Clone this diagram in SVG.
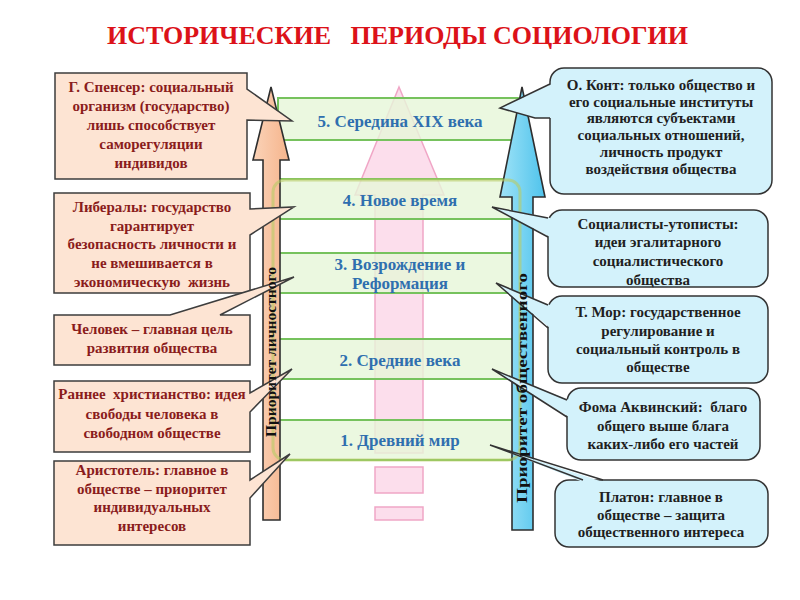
<svg xmlns="http://www.w3.org/2000/svg" width="800" height="600" viewBox="0 0 800 600">
<defs>
<linearGradient id="blue" x1="0" y1="0" x2="1" y2="0">
<stop offset="0" stop-color="#9fe3f7"/>
<stop offset="1" stop-color="#4fc3ec"/>
</linearGradient>
<linearGradient id="peach" x1="0" y1="0" x2="1" y2="0">
<stop offset="0" stop-color="#fbd3b8"/>
<stop offset="1" stop-color="#f5b48c"/>
</linearGradient>
</defs>
<style>
text{font-family:'Liberation Serif','Times New Roman',serif;font-weight:bold}
.title{font-size:25px;fill:#dc1219}
.lt{font-size:15px;fill:#8a1c1c;text-anchor:middle}
.rt{font-size:15px;fill:#1f1f1f;text-anchor:middle}
.pt{font-size:17px;fill:#2f6faf;text-anchor:middle}
.at{font-size:14px;fill:#111;text-anchor:middle}
.lbox{fill:#fde4d3;stroke:#3d3d3d;stroke-width:1.5}
.rbox{fill:#d3f2fb;stroke:#333;stroke-width:1.5}
.rfill{fill:#d3f2fb;stroke:none}
.rline{fill:none;stroke:#333;stroke-width:1.5}
.band{fill:#e6f6d8;fill-opacity:0.8;stroke:#76c25d;stroke-width:2}
.pink{fill:#fbd3e6;fill-opacity:0.75;stroke:#f0a6c6;stroke-width:1.5}
</style>
<text class="title" x="107" y="44" textLength="581" lengthAdjust="spacingAndGlyphs" xml:space="preserve">ИСТОРИЧЕСКИЕ   ПЕРИОДЫ СОЦИОЛОГИИ</text>

<g id="center-arrow">
<path class="pink" d="M399,87 L444,195 L423,195 L423,453 L375,453 L375,195 L355,195 Z"/>
<rect class="pink" x="375" y="467" width="48" height="26"/>
<rect class="pink" x="375" y="507" width="48" height="13"/>
</g>

<g id="periods">
<g id="p5"><rect class="band" x="278" y="98" width="240" height="42"/><text class="pt" x="400" y="127">5. Середина XIX века</text></g>
<g id="p4"><rect class="band" x="278" y="179" width="240" height="40"/><text class="pt" x="400" y="206">4. Новое время</text></g>
<g id="p3"><rect class="band" x="278" y="253" width="240" height="40"/><text class="pt" x="400" y="270">3. Возрождение и</text><text class="pt" x="400" y="289">Реформация</text></g>
<g id="p2"><rect class="band" x="278" y="339" width="240" height="40"/><text class="pt" x="400" y="366">2. Средние века</text></g>
<g id="p1"><rect class="band" x="278" y="420" width="240" height="40"/><text class="pt" x="400" y="446">1. Древний мир</text></g>
</g>

<g id="left-arrow">
<path d="M271,87 L289,160 L280,160 L280,520 L263,520 L263,160 L253,160 Z" fill="url(#peach)" stroke="#2e2e2e" stroke-width="1.6"/>
</g>
<g id="right-arrow">
<path d="M522,87 L545,197 L533,197 L533,530 L512,530 L512,197 L500,197 Z" fill="url(#blue)" stroke="#2e2e2e" stroke-width="1.6"/>
</g>
<rect x="273" y="180" width="247" height="280" rx="12" fill="none" stroke="#b8cc66" stroke-width="3" stroke-opacity="0.6"/>

<g id="connectors">
</g>

<g id="l1"><path class="lbox" d="M55,73 H247 V89 L292,121 L247,120 V179 H55 Z"/>
<text class="lt" x="151" y="92">Г. Спенсер: социальный</text>
<text class="lt" x="151" y="111">организм (государство)</text>
<text class="lt" x="151" y="130">лишь способствует</text>
<text class="lt" x="151" y="149">саморегуляции</text>
<text class="lt" x="151" y="168">индивидов</text></g>

<g id="l2"><path class="lbox" d="M54,193 H250 V209 L294,207 L250,235 V293 H54 Z"/>
<text class="lt" x="152" y="212">Либералы: государство</text>
<text class="lt" x="152" y="231">гарантирует</text>
<text class="lt" x="152" y="249">безопасность личности и</text>
<text class="lt" x="152" y="268">не вмешивается в</text>
<text class="lt" x="152" y="287" xml:space="preserve">экономическую  жизнь</text></g>

<g id="l3"><path class="lbox" d="M54,315 H170 L294,277 L220,315 H250 V365 H54 Z"/>
<text class="lt" x="152" y="334">Человек – главная цель</text>
<text class="lt" x="152" y="353">развития общества</text></g>

<g id="l4"><path class="lbox" d="M54,381 H250 V393 L292,369 L250,412 V452 H54 Z"/>
<text class="lt" x="152" y="399" xml:space="preserve">Раннее  христианство: идея</text>
<text class="lt" x="152" y="419">свободы человека в</text>
<text class="lt" x="152" y="438">свободном обществе</text></g>

<g id="l5"><path class="lbox" d="M54,461 H250 V480 L290,454 L250,498 V545 H54 Z"/>
<text class="lt" x="152" y="475">Аристотель: главное в</text>
<text class="lt" x="152" y="494">обществе – приоритет</text>
<text class="lt" x="152" y="512">индивидуальных</text>
<text class="lt" x="152" y="531">интересов</text></g>

<g id="r1"><rect class="rbox" x="550" y="68" width="222" height="126" rx="14"/>
<path class="rfill" d="M552,84 L500,108 L535,118 L552,118 Z"/>
<path class="rline" d="M550,84 L500,108 L535,118 L550,118"/>
<text class="rt" x="661" y="90">О. Конт: только общество и</text>
<text class="rt" x="661" y="107">его социальные институты</text>
<text class="rt" x="661" y="123">являются субъектами</text>
<text class="rt" x="661" y="140">социальных отношений,</text>
<text class="rt" x="661" y="157">личность продукт</text>
<text class="rt" x="661" y="174">воздействия общества</text></g>

<g id="r2"><rect class="rbox" x="548" y="210" width="220" height="77" rx="14"/>
<path class="rfill" d="M550,218 L492,207 L550,237 Z"/>
<path class="rline" d="M548,218 L492,207 L548,237"/>
<text class="rt" x="658" y="229">Социалисты-утописты:</text>
<text class="rt" x="658" y="247">идеи эгалитарного</text>
<text class="rt" x="658" y="266">социалистического</text>
<text class="rt" x="658" y="285">общества</text></g>

<g id="r3"><rect class="rbox" x="548" y="296" width="220" height="87" rx="14"/>
<path class="rfill" d="M550,305 L496,283 L550,328 Z"/>
<path class="rline" d="M548,305 L496,283 L548,328"/>
<text class="rt" x="658" y="317">Т. Мор: государственное</text>
<text class="rt" x="658" y="336">регулирование и</text>
<text class="rt" x="658" y="354">социальный контроль в</text>
<text class="rt" x="658" y="372">обществе</text></g>

<g id="r4"><rect class="rbox" x="567" y="388" width="193" height="72" rx="14"/>
<path class="rfill" d="M569,400 L492,369 L569,417 Z"/>
<path class="rline" d="M567,400 L492,369 L567,417"/>
<text class="rt" x="663" y="412" xml:space="preserve">Фома Аквинский:  благо</text>
<text class="rt" x="663" y="431">общего выше блага</text>
<text class="rt" x="663" y="449">каких-либо его частей</text></g>

<g id="r5"><rect class="rbox" x="555" y="480" width="213" height="67" rx="14"/>
<path class="rfill" d="M583,482 L490,445 L603,482 Z"/>
<path class="rline" d="M583,480 L490,445 L603,480"/>
<text class="rt" x="661" y="502">Платон: главное в</text>
<text class="rt" x="661" y="520">обществе – защита</text>
<text class="rt" x="661" y="537">общественного интереса</text></g>

<g id="arrow-labels">
<text class="at" transform="translate(276,352) rotate(-90)" x="0" y="0" textLength="170" lengthAdjust="spacingAndGlyphs">Приоритет личностного</text>
<text class="at" transform="translate(527,388) rotate(-90)" x="0" y="0" textLength="230" lengthAdjust="spacingAndGlyphs">Приоритет общественного</text>
</g>
</svg>
